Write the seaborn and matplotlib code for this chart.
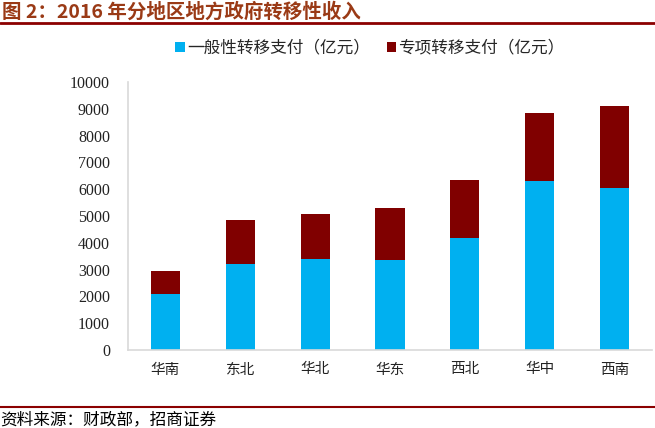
import matplotlib
matplotlib.use("Agg")
import matplotlib.pyplot as plt
import seaborn as sns
import pandas as pd
from matplotlib.patches import Patch
from matplotlib.lines import Line2D

regions = ["华南", "东北", "华北", "华东", "西北", "华中", "西南"]
general = [2100, 3220, 3410, 3370, 4170, 6320, 6040]
special = [850, 1635, 1675, 1910, 2185, 2510, 3050]
yticks = [0, 1000, 2000, 3000, 4000, 5000, 6000, 7000, 8000, 9000, 10000]
legend_labels = ["一般性转移支付（亿元）", "专项转移支付（亿元）"]
title = "图 2：2016 年分地区地方政府转移性收入"
source = "资料来源：财政部，招商证券"

sns.set_theme(style="white")
cjk = ["Noto Sans CJK SC", "DejaVu Sans"]
plt.rcParams["font.family"] = cjk

BLUE = "#00B0F0"
DRED = "#800000"

df = pd.DataFrame({"region": regions, "general": general,
                   "total": [g + s for g, s in zip(general, special)]})

fig = plt.figure(figsize=(6.55, 4.28), dpi=100)
ax = fig.add_axes([128/655, 1-350/428, (652-128)/655, (350-82)/428])

sns.barplot(data=df, x="region", y="total", color=DRED, saturation=1,
            width=0.39, ax=ax, edgecolor="none", linewidth=0)
sns.barplot(data=df, x="region", y="general", color=BLUE, saturation=1,
            width=0.39, ax=ax, edgecolor="none", linewidth=0)

ax.set_ylim(0, 10000)
ax.set_xlim(-0.5, len(regions) - 0.5)
ax.set_yticks(yticks)
ax.set_yticklabels([str(v) for v in yticks], family="Liberation Serif",
                   fontsize=11.5, color="#222222")
ax.set_xticks(range(len(regions)))
ax.set_xticklabels(regions, fontsize=10.5, color="#222222")
ax.set_xlabel("")
ax.set_ylabel("")
ax.tick_params(axis="both", length=0)
ax.tick_params(axis="y", pad=13)
ax.tick_params(axis="x", pad=9)
for s in ["top", "right"]:
    ax.spines[s].set_visible(False)
for s in ["left", "bottom"]:
    ax.spines[s].set_color("#D9D9D9")
    ax.spines[s].set_linewidth(1.2)
ax.grid(False)

handles = [Patch(facecolor=BLUE, edgecolor="none"),
           Patch(facecolor=DRED, edgecolor="none")]
fig.legend(handles, legend_labels, loc="center", ncol=2,
           bbox_to_anchor=(370/655, 1-48/428), frameon=False,
           fontsize=12, handlelength=0.55, handleheight=0.55,
           handletextpad=0.15, columnspacing=1.0)

fig.text(2/655, 1-12/428, title, fontsize=14, fontweight="bold",
         color="#9A3A16", ha="left", va="center")
fig.add_artist(Line2D([0, 1], [1-23/428, 1-23/428], color="#8B0000",
                      linewidth=2, transform=fig.transFigure))
fig.add_artist(Line2D([0, 1], [1-407/428, 1-407/428], color="#8B0000",
                      linewidth=1.5, transform=fig.transFigure))
fig.text(0, 1-420/428, source, fontsize=12, color="black",
         ha="left", va="center")

fig.savefig("out.png", dpi=100)
